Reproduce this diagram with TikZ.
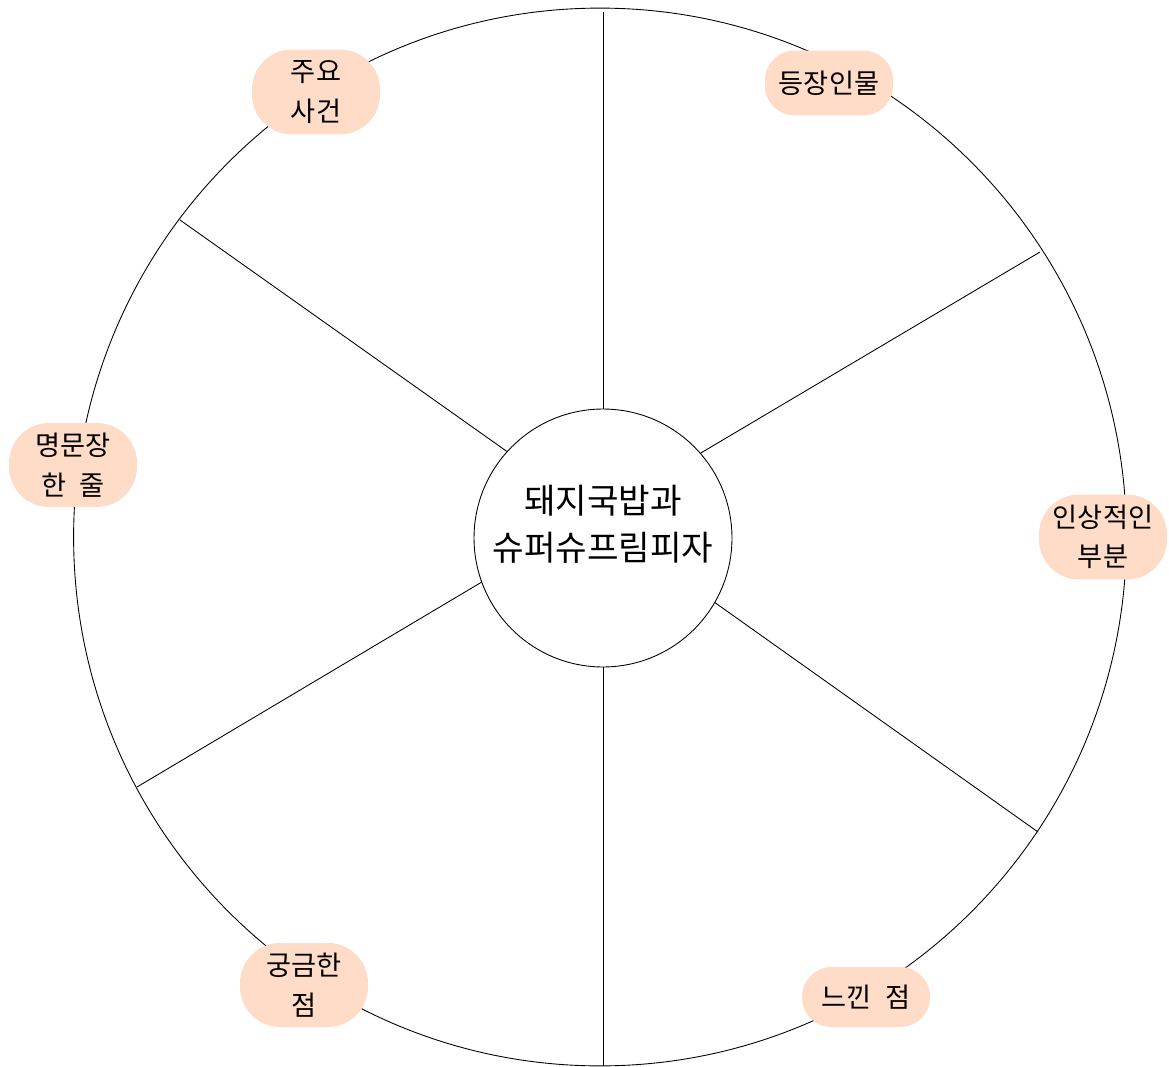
\documentclass[tikz,border=0pt]{standalone}
\usepackage{fontspec}
\setmainfont{Noto Sans CJK KR}
\definecolor{peach}{RGB}{255,220,200}
\tikzset{
  tag/.style={fill=peach, rounded corners=0.8cm, align=center, inner sep=0pt,
    minimum width=2.56cm, font=\fontsize{15.5}{22.5}\selectfont},
  tagline/.style={tag, rounded corners=0.59cm},
  spoke/.style={draw=black, line width=0.5pt}
}
\begin{document}
\begin{tikzpicture}[x=0.02cm,y=-0.02cm]
            \useasboundingbox (0,0) rectangle (1169,1067);
            \draw[line width=0.5pt] (600,537) ellipse [x radius=10.53cm, y radius=10.58cm];
            \node[circle, draw, line width=0.5pt, minimum size=5.16cm, inner sep=0pt] (hub) at (603,538) {};
            \node[align=center, font=\fontsize{19.5}{27}\selectfont] (title) at (603,524) {돼지국밥과\\슈퍼슈프림피자};
            \coordinate (o1) at (603,12);
            \coordinate (o2) at (1040,252);
            \coordinate (o3) at (1038,832);
            \coordinate (o4) at (603,1066);
            \coordinate (o5) at (137,787);
            \coordinate (o6) at (180,220);
            \draw[spoke] (hub.90) -- (o1);
            \draw[spoke] (hub.41) -- (o2);
            \draw[spoke] (hub.-30) -- (o3);
            \draw[spoke] (hub.270) -- (o4);
            \draw[spoke] (hub.200.6) -- (o5);
            \draw[spoke] (hub.138) -- (o6);
            \node[tag, minimum height=1.7cm] (event) at (316,92) {주요\\사건};
            \node[tagline, minimum height=1.3cm] (people) at (829,83) {등장인물};
            \node[tag, minimum height=1.68cm] (quote) at (73,465) {명문장\\한\hspace{0.5em}줄};
            \node[tag, minimum height=1.7cm] (scene) at (1103,537) {인상적인\\부분};
            \node[tag, minimum height=1.68cm] (question) at (304,985) {궁금한\\점};
            \node[tagline, minimum height=1.2cm] (feeling) at (866,997) {느낀\hspace{0.5em}점};
        \end{tikzpicture}
\end{document}
